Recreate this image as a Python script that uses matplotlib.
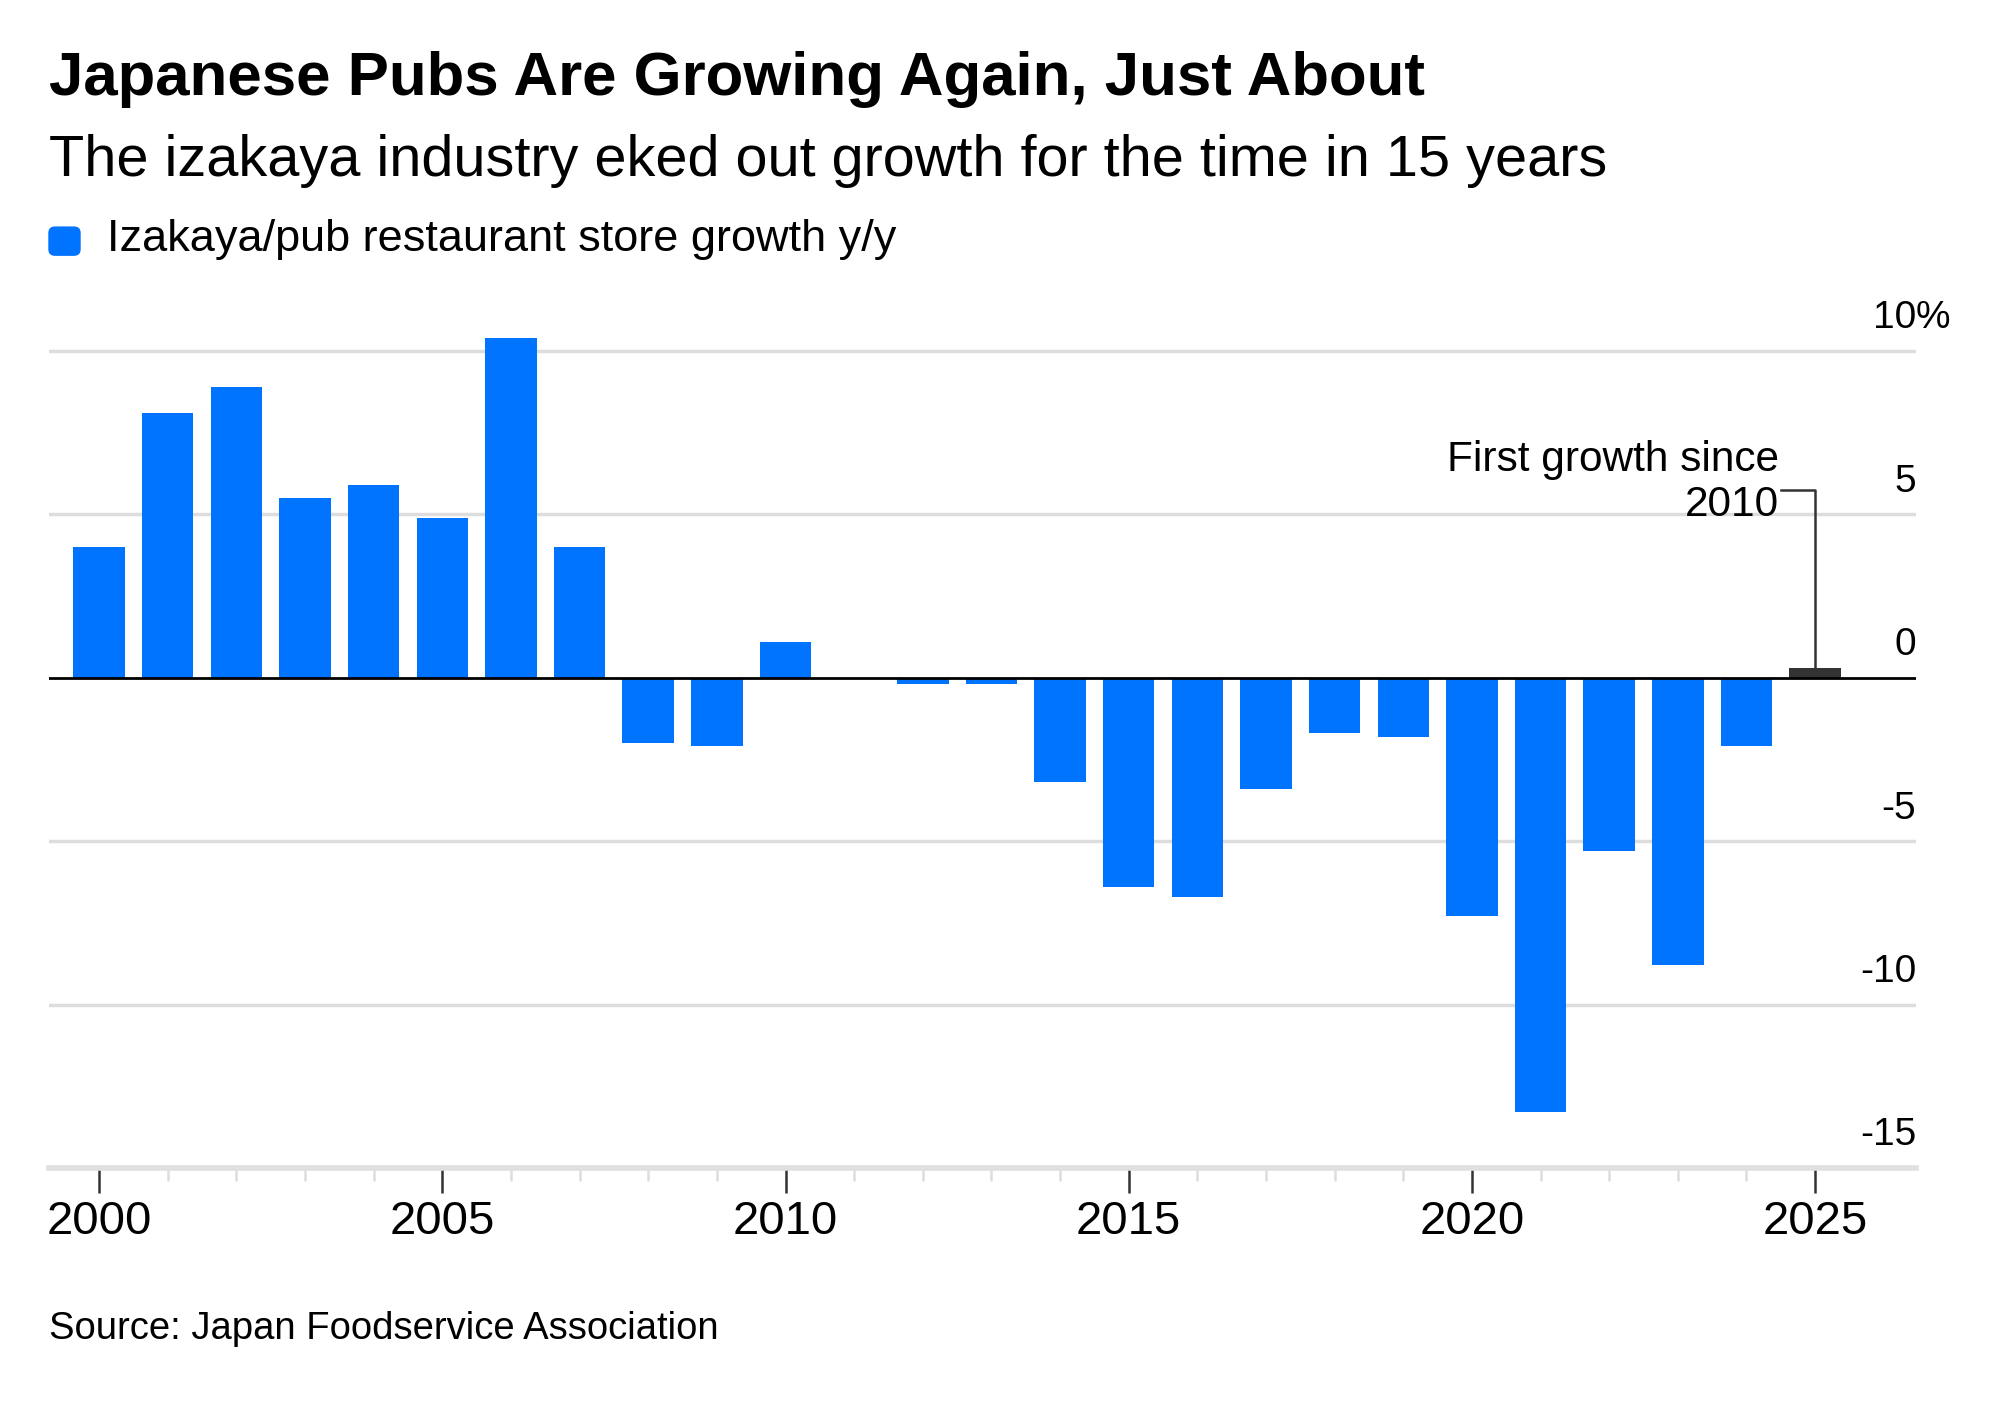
import matplotlib
matplotlib.use("Agg")
import matplotlib.pyplot as plt
from matplotlib.patches import FancyBboxPatch
import matplotlib.transforms as mtransforms

plt.rcParams['font.family'] = ['Liberation Sans', 'DejaVu Sans']

# Data: izakaya/pub restaurant store growth y/y (%)
years = list(range(2000, 2026))
growth = [4.0, 8.1, 8.9, 5.5, 5.9, 4.9, 10.4, 4.0, -2.0, -2.1,
          1.1, 0.0, -0.2, -0.2, -3.2, -6.4, -6.7, -3.4, -1.7, -1.8,
          -7.3, -13.3, -5.3, -8.8, -2.1, 0.3]
highlight_year = 2025

ytick_vals = [10, 5, 0, -5, -10, -15]
ytick_labels = ['10', '5', '0', '-5', '-10', '-15']
xtick_major = [2000, 2005, 2010, 2015, 2020, 2025]

blue = '#0073ff'
dark = '#333333'

fig = plt.figure(figsize=(20, 14.02), dpi=100)
ax = fig.add_axes([0.0245, 0.1669, 0.9335, 0.6177])

colors = [dark if y == highlight_year else blue for y in years]
ax.bar(years, growth, width=0.75, color=colors, zorder=3)

ax.set_xlim(1999.27, 2026.47)
ax.set_ylim(-15, 11.5)

# gridlines and zero line
for v in ytick_vals:
    if v == 0:
        ax.axhline(0, color='black', linewidth=2.0, zorder=4)
    elif v != -15:
        ax.axhline(v, color='#dddddd', linewidth=2.5, zorder=1)

# y labels sit above gridlines on the right
trans = mtransforms.blended_transform_factory(ax.transAxes, ax.transData)
for v, lab in zip(ytick_vals, ytick_labels):
    ax.text(1.0, v + 0.45, lab, transform=trans, ha='right', va='bottom',
            fontsize=28, color='black')
ax.text(1.0, 10 + 0.45, '%', transform=trans, ha='left', va='bottom',
        fontsize=28, color='black')

# spines / ticks
for s in ['top', 'right', 'left']:
    ax.spines[s].set_visible(False)
ax.spines['bottom'].set_color('#e0e0e0')
ax.spines['bottom'].set_linewidth(4)
ax.set_yticks([])
ax.set_xticks(xtick_major)
ax.set_xticklabels([str(x) for x in xtick_major], fontsize=34)
ax.set_xticks(years, minor=True)
ax.tick_params(axis='x', which='major', length=18, width=1.8, color='#333333', pad=5)
ax.tick_params(axis='x', which='minor', length=9, width=1.8, color='#dddddd')

# annotation
hl_val = growth[years.index(highlight_year)]
ax.plot([highlight_year - 0.5, highlight_year, highlight_year],
        [5.75, 5.75, hl_val], color='#333333', linewidth=1.8, zorder=5)
ax.text(highlight_year - 0.53, 6.65, 'First growth since', ha='right', va='center',
        fontsize=30.5, color='black')
ax.text(highlight_year - 0.53, 5.3, '2010', ha='right', va='center',
        fontsize=30.5, color='black')

# titles
fig.text(0.0245, 0.943, 'Japanese Pubs Are Growing Again, Just About',
         fontsize=44.5, fontweight='bold', ha='left', va='center')
fig.text(0.0245, 0.885, 'The izakaya industry eked out growth for the time in 15 years',
         fontsize=41.5, ha='left', va='center')

# legend
sq = FancyBboxPatch((0.0245, 0.818), 0.0155, 0.02, boxstyle='round,pad=0,rounding_size=0.003',
                    transform=fig.transFigure, color=blue, mutation_aspect=1.4)
fig.patches.append(sq)
fig.text(0.0535, 0.829, 'Izakaya/pub restaurant store growth y/y', fontsize=32.5,
         ha='left', va='center')

# source
fig.text(0.0245, 0.052, 'Source: Japan Foodservice Association', fontsize=27.5,
         ha='left', va='center')

fig.savefig('out.png', dpi=100, facecolor='white')
